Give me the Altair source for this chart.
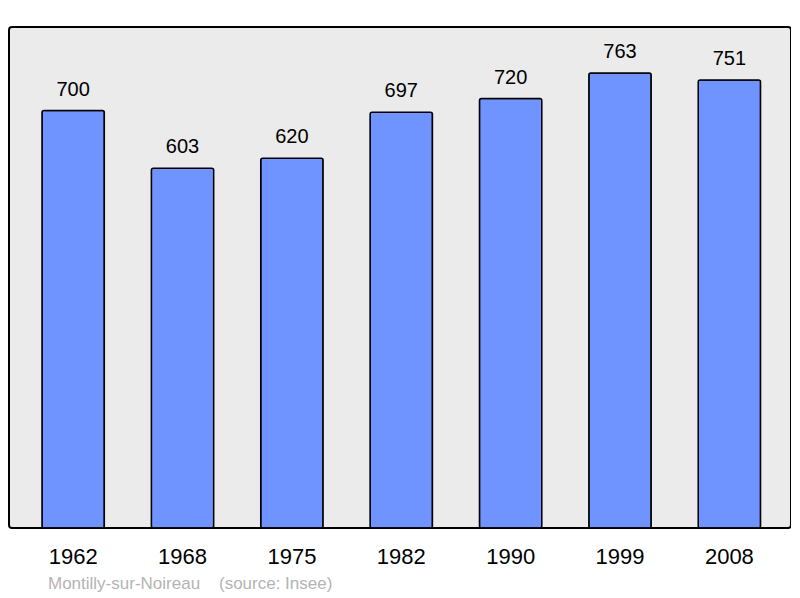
import altair as alt
import pandas as pd

years = ["1962", "1968", "1975", "1982", "1990", "1999", "2008"]
population = [700, 603, 620, 697, 720, 763, 751]
footer = "Montilly-sur-Noireau\u00a0\u00a0\u00a0\u00a0(source: Insee)"

df = pd.DataFrame({"year": years, "pop": population})

x = alt.X("year:N", sort=years, title=None,
          scale=alt.Scale(paddingInner=0.43, paddingOuter=0.29, align=0.52),
          axis=alt.Axis(labelAngle=0, labelFontSize=22, labelColor="black",
                        labelFont="Liberation Sans", labelPadding=18,
                        domain=False, ticks=False))
y = alt.Y("pop:Q", scale=alt.Scale(domain=[0, 840], nice=False), axis=None)

bars = alt.Chart(df).mark_bar(color="#7094ff", stroke="black", strokeWidth=1.5,
                              cornerRadius=2).encode(x=x, y=y)
labels = alt.Chart(df).mark_text(fontSize=20, font="Liberation Sans", color="black",
                                 dy=-15, baseline="alphabetic").encode(
    x=x, y=y, text="pop:Q")
foot = alt.Chart(pd.DataFrame({"t": [footer]})).mark_text(
    fontSize=17, font="Liberation Sans", color="#b4b4b4", align="left",
    baseline="middle").encode(x=alt.value(39), y=alt.value(557), text="t:N")

chart = alt.layer(bars, labels, foot).properties(
    width=782, height=501,
    autosize=alt.AutoSizeParams(type="none"),
    padding={"left": 1, "top": 19, "right": 0, "bottom": 70},
).configure_view(fill="#ebebeb", stroke="black", strokeWidth=2, cornerRadius=3)

chart.save("out.html", embed_options={"renderer": "svg", "actions": False})
